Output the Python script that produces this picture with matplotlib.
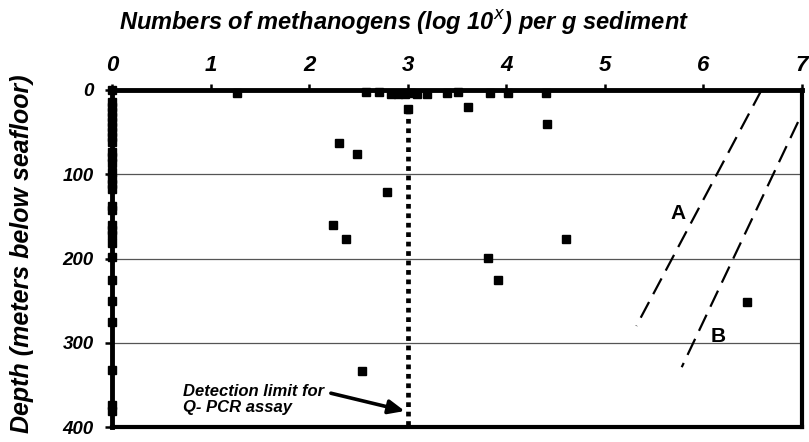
import matplotlib
matplotlib.use("Agg")
import matplotlib.pyplot as plt
import numpy as np

plt.rcParams['font.family'] = ['Liberation Sans', 'DejaVu Sans']

# samples below detection plotted at zero
zero_depth = [0, 14, 20, 26, 32, 38, 44, 50, 56, 62, 74, 80, 87, 97, 106, 112, 118,
              138, 142, 160, 166, 172, 182, 198, 225, 251, 275, 332, 374, 381]

# detected samples: log10 numbers vs depth (mbsf)
log_counts = [1.27, 2.58, 2.71, 2.83, 2.90, 2.97, 3.03, 3.09, 3.20, 3.40, 3.51, 3.84,
              4.02, 4.40, 3.00, 3.61, 4.41, 2.30, 2.49, 2.79, 2.24, 2.37, 2.54, 4.61,
              3.81, 3.92, 6.44]
depths = [4, 2, 2, 5, 5, 5, 3, 5, 5, 4, 2, 4,
          4, 4, 22, 20, 40, 63, 76, 121, 160, 177, 333, 177,
          199, 226, 252]

# reference lines A and B
line_a_x = [6.59, 5.32]
line_a_y = [0, 280]
line_b_x = [6.96, 5.78]
line_b_y = [38, 329]

detect_limit = 3.0

fig = plt.figure(figsize=(8.09, 4.42), dpi=100)
ax = fig.add_axes([0.1384, 0.0339, 0.8529, 0.7625])

for d in [100, 200, 300]:
    ax.axhline(d, color='#555555', lw=0.9, zorder=1)

ax.plot([detect_limit, detect_limit], [22, 400], color='black', lw=3.4,
        linestyle=(0, (1, 1.0)), zorder=2, clip_on=False)

ax.plot(line_a_x, line_a_y, color='black', lw=1.6, dashes=(8, 4), zorder=2)
ax.plot(line_b_x, line_b_y, color='black', lw=1.6, dashes=(8, 4), zorder=2)
ax.text(5.74, 146, 'A', fontsize=15, fontweight='bold', ha='center', va='center')
ax.text(6.15, 293, 'B', fontsize=15, fontweight='bold', ha='center', va='center')

ax.plot([0] * len(zero_depth), zero_depth, 's', color='black', ms=5.8,
        clip_on=False, zorder=4)
ax.plot(log_counts, depths, 's', color='black', ms=5.8, clip_on=False, zorder=4)

ax.annotate('Detection limit for\nQ- PCR assay', xy=(2.97, 381), xytext=(0.72, 367),
            fontsize=12, fontweight='bold', fontstyle='italic', ha='left', va='center',
            linespacing=1.05,
            arrowprops=dict(arrowstyle='-|>,head_length=0.8,head_width=0.35',
                            color='black', lw=2.6, shrinkA=3, shrinkB=0,
                            relpos=(1.0, 0.75)))

ax.set_xlim(0, 7)
ax.set_ylim(400, 0)
ax.xaxis.tick_top()
ax.set_xticks(range(8))
ax.set_yticks([0, 100, 200, 300, 400])
ax.tick_params(axis='x', direction='out', length=4, width=1.8, pad=6,
               labelsize=16)
ax.tick_params(axis='y', direction='out', length=5, width=1.8, pad=8,
               labelsize=13.5)
for lab in ax.get_xticklabels() + ax.get_yticklabels():
    lab.set_fontweight('bold')
    lab.set_fontstyle('italic')
for s in ['top', 'left']:
    ax.spines[s].set_linewidth(3.5)
for s in ['right', 'bottom']:
    ax.spines[s].set_linewidth(3.0)

fig.text(0.499, 0.948, 'Numbers of methanogens (log 10$^{\\mathbf{\\it{x}}}$) per g sediment',
         fontsize=17, fontweight='bold', fontstyle='italic', ha='center', va='center')
fig.text(0.027, 0.425, 'Depth (meters below seafloor)', rotation=90,
         fontsize=18, fontweight='bold', fontstyle='italic', ha='center', va='center')

fig.savefig('out.png', dpi=100)
